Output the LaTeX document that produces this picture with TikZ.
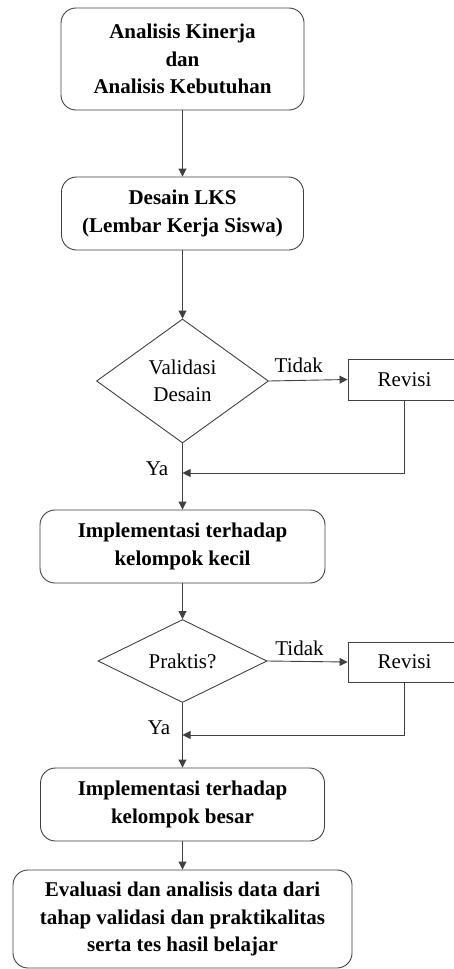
\documentclass[tikz,border=0pt]{standalone}
\usepackage{fontspec}
\setmainfont{Liberation Serif}
\usetikzlibrary{shapes.geometric,arrows.meta}
\begin{document}
\begin{tikzpicture}[x=1pt,y=-1pt,
  line/.style={draw=black!75,line width=0.9pt},
  arr/.style={line,-{Triangle[length=8pt,width=8pt]}},
  rbox/.style={line,rounded corners=15pt,align=center,inner sep=0pt,
    font=\fontsize{21}{27.5}\selectfont\bfseries},
  dia/.style={line,diamond,align=center,inner sep=0pt,
    font=\fontsize{21}{27.5}\selectfont},
  rev/.style={line,rectangle,inner sep=0pt,minimum width=113pt,
    font=\fontsize{21}{27.5}\selectfont},
  lab/.style={font=\fontsize{21}{27.5}\selectfont,inner sep=0pt}]
\useasboundingbox (0,0) rectangle (453,969);
\node[rbox,minimum width=243pt,minimum height=102pt] (b1) at (182.5,59) {Analisis Kinerja\\dan\\Analisis Kebutuhan};
\node[rbox,minimum width=242pt,minimum height=73pt] (b2) at (182.5,213.5) {Desain LKS\\(Lembar Kerja Siswa)};
\node[dia,minimum width=172pt,minimum height=124pt] (d1) at (182.5,381) {Validasi\\Desain};
\node[rev,minimum height=41pt] (r1) at (404.5,379.5) {Revisi};
\node[rbox,minimum width=285pt,minimum height=73pt] (b3) at (182.5,546.5) {Implementasi terhadap\\kelompok kecil};
\node[dia,minimum width=169pt,minimum height=83pt] (d2) at (182.5,661) {Praktis?};
\node[rev,minimum height=40pt] (r2) at (404.5,662) {Revisi};
\node[rbox,minimum width=284pt,minimum height=73pt] (b4) at (182.5,804.5) {Implementasi terhadap\\kelompok besar};
\node[rbox,minimum width=339pt,minimum height=98pt] (b5) at (182.5,919) {Evaluasi dan analisis data dari\\tahap validasi dan praktikalitas\\serta tes hasil belajar};
\coordinate (j1) at (182.5,473);
\coordinate (j2) at (182.5,735);
\draw[arr] (b1.south) -- (b2.north);
\draw[arr] (b2.south) -- (d1.north);
\draw[arr] (d1.east) -- (r1.west -| r1.west) node[lab,pos=0.38,above=7pt] {Tidak};
\draw[arr] (r1.south) |- (j1);
\draw[arr] (d1.south) -- (b3.north);
\node[lab] (ya1) at (157,469) {Ya};
\draw[arr] (b3.south) -- (d2.north);
\draw[arr] (d2.east) -- (r2.west) node[lab,pos=0.4,above=5pt] {Tidak};
\draw[arr] (r2.south) |- (j2);
\draw[arr] (d2.south) -- (b4.north);
\node[lab] (ya2) at (159,728) {Ya};
\draw[arr] (b4.south) -- (b5.north);
\end{tikzpicture}
\end{document}
